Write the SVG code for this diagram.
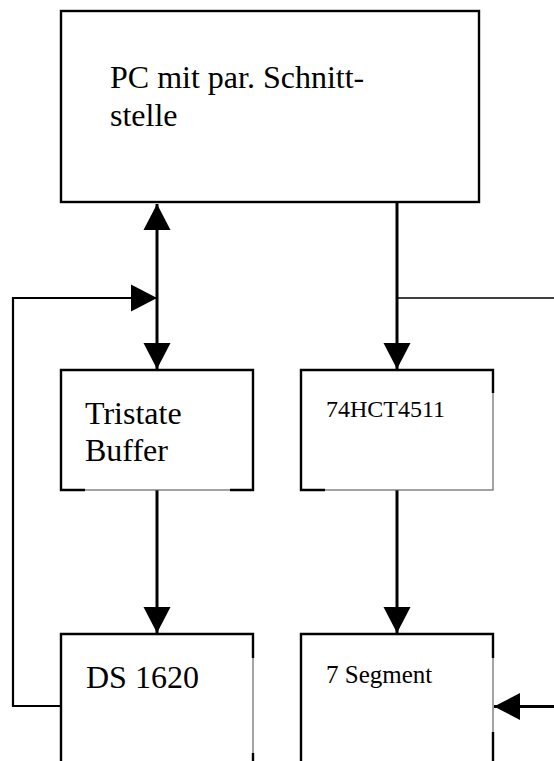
<svg xmlns="http://www.w3.org/2000/svg" width="554" height="761" viewBox="0 0 554 761">
<defs>
<marker id="ah" markerUnits="userSpaceOnUse" markerWidth="28" markerHeight="28" refX="26" refY="13.5" orient="auto-start-reverse" viewBox="0 0 28 27">
<path d="M0,0 L26,13.5 L0,27 Z" fill="#000"/>
</marker>
<style>
.thick{fill:none;stroke:#000;stroke-width:2.4}
.thin{fill:none;stroke:#666;stroke-width:1.2}
.lbl{font-family:"Liberation Serif","Times New Roman",serif;fill:#000}
.big{font-size:32px}
.small{font-size:24px}
.con{fill:none;stroke:#000;stroke-width:3}
.con2{fill:none;stroke:#000;stroke-width:2.2}
.con1{fill:none;stroke:#000;stroke-width:1.5}
</style>
</defs>
<rect x="0" y="0" width="554" height="761" fill="#fff"/>
<g id="connectors">
<line class="con" x1="157" y1="204" x2="157" y2="369" marker-start="url(#ah)" marker-end="url(#ah)"/>
<polyline class="con2" points="61,706 13,706 13,298 157,298" marker-end="url(#ah)"/>
<line class="con" x1="397" y1="202" x2="397" y2="369" marker-end="url(#ah)"/>
<line class="con1" x1="397" y1="298" x2="554" y2="298"/>
<line class="con" x1="157" y1="490" x2="157" y2="633" marker-end="url(#ah)"/>
<line class="con" x1="397" y1="490" x2="397" y2="633" marker-end="url(#ah)"/>
<line class="con" x1="554" y1="706.5" x2="494" y2="706.5" marker-end="url(#ah)"/>
</g>
<g id="pc">
<rect class="thick" x="61" y="11" width="418" height="191" fill="#fff"/>
<text class="lbl big" x="110" y="88">PC mit par. Schnitt-</text>
<text class="lbl big" x="110" y="126">stelle</text>
</g>
<g id="tristate">
<rect x="61" y="370" width="192" height="120" fill="#fff" class="thin"/>
<polyline class="thick" points="85,490 61,490 61,370 253,370 253,490 230,490"/>
<text class="lbl big" x="85" y="424">Tristate</text>
<text class="lbl big" x="85" y="461">Buffer</text>
</g>
<g id="hct4511">
<rect x="301" y="370" width="192" height="120" fill="#fff" class="thin"/>
<polyline class="thick" points="325,490 301,490 301,370 493,370 493,393"/>
<text class="lbl small" x="326" y="416.5">74HCT4511</text>
</g>
<g id="ds1620">
<rect x="61" y="634" width="192" height="140" fill="#fff" class="thin"/>
<polyline class="thick" points="61,775 61,634 253,634 253,658"/>
<line class="thick" x1="253" y1="753" x2="253" y2="775"/>
<text class="lbl big" x="86" y="688">DS 1620</text>
</g>
<g id="segment7">
<rect x="301" y="634" width="192" height="140" fill="#fff" class="thin"/>
<polyline class="thick" points="301,775 301,634 493,634 493,658"/>
<line class="thick" x1="493" y1="732" x2="493" y2="775"/>
<text class="lbl" style="font-size:25px" x="326" y="682.5">7 Segment</text>
</g>
</svg>
